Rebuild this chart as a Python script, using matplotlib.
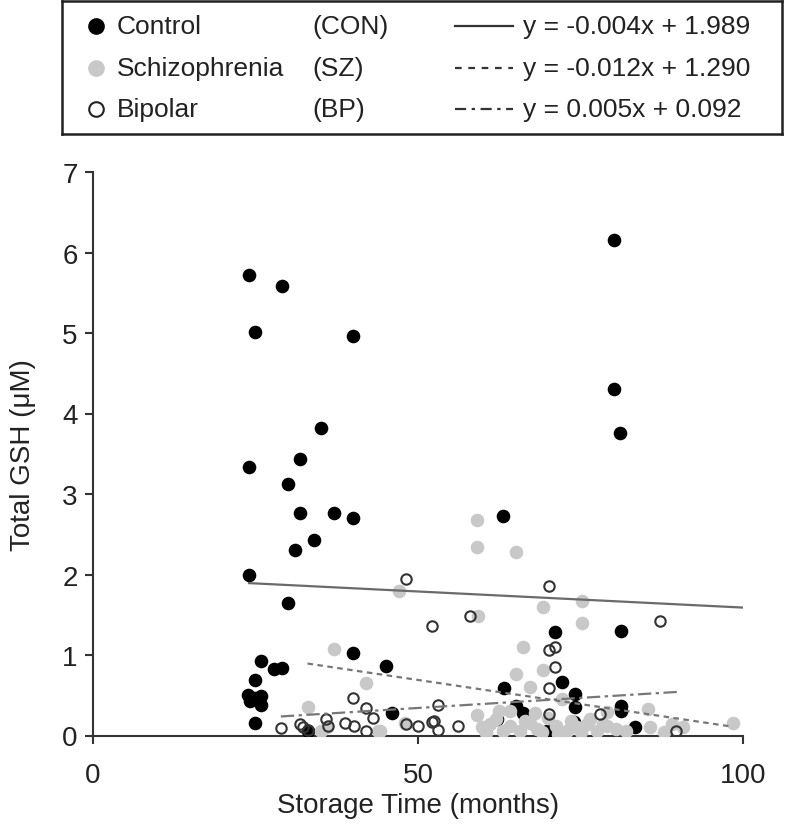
import matplotlib
matplotlib.use("Agg")
import matplotlib.pyplot as plt
import numpy as np

plt.rcParams["font.family"] = ["Liberation Sans", "DejaVu Sans"]

# Control (CON)
con_x = [24.0, 29.0, 24.9, 40.0, 35.0, 31.9, 24.0, 30.0, 31.9, 37.0, 40.0, 34.0, 31.0,
         80.2, 80.2, 81.1, 63.1,
         24.0, 30.0, 40.0, 25.9, 27.8, 29.0, 45.0, 24.9, 23.9, 25.9, 24.2, 25.9, 24.9,
         46.0, 24.9, 33.0,
         71.1, 72.2, 63.2, 74.2, 74.2, 65.1, 66.2, 62.2, 74.0, 69.8,
         81.2, 81.2, 81.2, 83.4]
con_y = [5.72, 5.58, 5.01, 4.96, 3.82, 3.43, 3.34, 3.13, 2.77, 2.76, 2.70, 2.43, 2.30,
         6.16, 4.30, 3.76, 2.73,
         2.00, 1.65, 1.02, 0.93, 0.83, 0.84, 0.86, 0.69, 0.50, 0.49, 0.43, 0.38, 0.46,
         0.28, 0.15, 0.06,
         1.28, 0.67, 0.59, 0.52, 0.36, 0.37, 0.28, 0.20, 0.17, 0.05,
         1.30, 0.37, 0.31, 0.11]

# Schizophrenia (SZ)
sz_x = [59.1, 59.1, 65.1, 69.2, 75.2, 75.2, 59.2, 66.1, 65.1, 69.2, 59.1,
        37.0, 42.0, 47.0, 33.0, 35.0, 44.2, 48.0, 43.9,
        67.2, 72.1, 64.1, 85.4, 79.0, 98.4,
        59.8, 61.1, 63.1, 64.2, 65.7, 67.2, 68.3, 71.3, 72.9, 74.4, 76.0, 77.5, 79.0,
        60.5, 62.0, 66.5, 69.0, 70.0, 73.5, 75.0, 78.5, 85.7, 89.0, 90.8, 87.8, 80.5,
        36.0, 62.5, 68.0, 71.5, 76.5, 82.0]
sz_y = [2.68, 2.34, 2.28, 1.60, 1.67, 1.40, 1.49, 1.10, 0.76, 0.81, 0.26,
        1.08, 0.65, 1.79, 0.35, 0.06, 0.06, 0.16, 0.06,
        0.60, 0.45, 0.31, 0.33, 0.29, 0.15,
        0.10, 0.14, 0.06, 0.12, 0.05, 0.15, 0.08, 0.12, 0.06, 0.10, 0.14, 0.05, 0.12,
        0.03, 0.20, 0.18, 0.04, 0.22, 0.18, 0.04, 0.14, 0.10, 0.14, 0.10, 0.04, 0.08,
        0.10, 0.30, 0.28, 0.02, 0.20, 0.06]

# Bipolar (BP)
bp_x = [48.1, 52.1, 40.0, 42.0, 53.1, 35.9, 43.1, 31.8, 28.9, 33.0, 38.8, 40.1, 42.0,
        50.0, 52.1, 53.1, 36.2,
        70.2, 58.0, 87.2, 71.1, 70.1, 71.1, 70.2, 70.2, 56.2, 52.4, 78.0, 89.7, 32.3, 48.2]
bp_y = [1.94, 1.36, 0.47, 0.34, 0.38, 0.21, 0.22, 0.14, 0.09, 0.07, 0.16, 0.12, 0.06,
        0.12, 0.17, 0.07, 0.12,
        1.86, 1.48, 1.42, 1.10, 1.06, 0.85, 0.59, 0.27, 0.12, 0.18, 0.27, 0.05, 0.10, 0.14]

# regression fits (slope, intercept) and drawn x-range
fit_slope = [-0.004, -0.012, 0.005]
fit_icpt = [1.989, 1.290, 0.092]
fit_range = [(24, 100), (33, 98.4), (28.9, 90)]
group_names = ["Control", "Schizophrenia", "Bipolar"]
group_abbr = ["(CON)", "(SZ)", "(BP)"]

fig = plt.figure(figsize=(7.94, 8.37), dpi=100)
W, H = 794, 837
ax = fig.add_axes([93 / W, 1 - 736.5 / H, 650 / W, 563.5 / H])

gray = "#c8c8c8"
ax.plot(con_x, con_y, "o", color="black", ms=9.8, mew=0, zorder=3)
ax.plot(sz_x, sz_y, "o", color=gray, ms=9.8, mew=0, zorder=4)
ax.plot(bp_x, bp_y, "o", mfc="none", mec="#333333", ms=7.5, mew=1.5, zorder=5)

styles = ["-", (0, (2.5, 2)), (0, (6, 2, 1.5, 2))]
line_cols = ["#6a6a6a", "#777777", "#777777"]
for k in range(3):
    xs = np.array(fit_range[k])
    ax.plot(xs, fit_slope[k] * xs + fit_icpt[k], linestyle=styles[k],
            color=line_cols[k], lw=1.6, zorder=6)

ax.set_xlim(0, 100)
ax.set_ylim(0, 7)
ax.set_xticks([0, 50, 100])
ax.set_yticks(range(8))
for s in ["top", "right"]:
    ax.spines[s].set_visible(False)
for s in ["left", "bottom"]:
    ax.spines[s].set_color("#333333")
    ax.spines[s].set_linewidth(1.5)
ax.spines["bottom"].set_zorder(2)
ax.tick_params(axis="both", direction="out", length=6, width=1.5, color="#333333",
               labelsize=20, labelcolor="#222222")
ax.tick_params(axis="x", pad=13)
ax.tick_params(axis="y", pad=5)
ax.set_xlabel("Storage Time (months)", fontsize=20, color="#222222", labelpad=3)
ax.set_ylabel("Total GSH (μM)", fontsize=20, color="#222222", labelpad=19)

# legend box
lg = fig.add_axes([62 / W, 1 - 135 / H, 720 / W, 133 / H])
lg.set_xlim(0, 720)
lg.set_ylim(133, 0)
lg.set_xticks([])
lg.set_yticks([])
for s in lg.spines.values():
    s.set_linewidth(1.8)
    s.set_color("#222222")
rows_y = [25, 67, 108]
mk = [dict(color="black", mew=0, ms=12),
      dict(color=gray, mew=0, ms=12),
      dict(mfc="none", mec="#222222", mew=1.5, ms=10.5)]
lstyles = ["-", (0, (3, 3)), (0, (5, 2.5, 1.5, 2.5))]
for k in range(3):
    yy = rows_y[k]
    lg.plot([34], [yy], "o", **mk[k])
    lg.text(55, yy, group_names[k], fontsize=19, va="center", color="#222222")
    lg.text(250, yy, group_abbr[k], fontsize=19, va="center", color="#222222")
    lg.plot([393, 451], [yy, yy], linestyle=lstyles[k], color="#333333", lw=1.6)
    sign = "-" if fit_slope[k] < 0 else ""
    eq = "y = %s%.3fx + %.3f" % (sign, abs(fit_slope[k]), fit_icpt[k])
    lg.text(461, yy, eq, fontsize=19, va="center", color="#222222")

fig.savefig("out.png", dpi=100)
